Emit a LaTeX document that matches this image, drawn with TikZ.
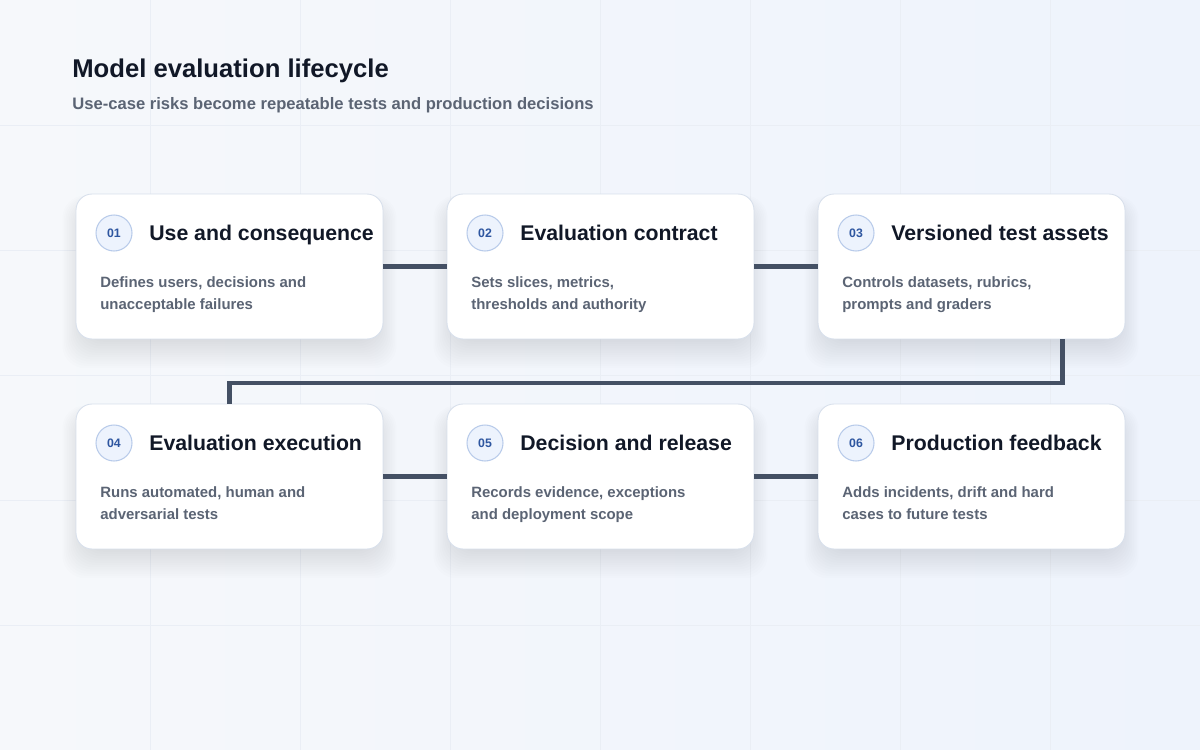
\documentclass[tikz,border=0pt]{standalone}
\usepackage{fontspec}
\setmainfont{Liberation Sans}
\usepackage{tikz}
\usetikzlibrary{positioning, calc}
\definecolor{ink}{HTML}{111827}
\definecolor{muted}{HTML}{5B6474}
\definecolor{linkcol}{HTML}{445064}
\definecolor{cardline}{HTML}{D8E0EC}
\definecolor{badgefill}{HTML}{EDF3FD}
\definecolor{badgeline}{HTML}{B8CBEA}
\definecolor{badgetext}{HTML}{2E56A0}
\definecolor{gridcol}{HTML}{EAEEF5}
\definecolor{bgtop}{HTML}{F6F8FB}
\definecolor{bgbot}{HTML}{EEF3FC}
\definecolor{shadowcol}{HTML}{2A3656}
\tikzstyle{card}=[draw=cardline, line width=0.5pt, fill=white, rounded corners=0.32cm, minimum width=6.14cm, minimum height=2.9cm, inner sep=0]
\tikzstyle{badge}=[circle, draw=badgeline, line width=0.6pt, fill=badgefill, minimum size=0.72cm, inner sep=0, text=badgetext, font=\fontsize{7}{8}\selectfont\bfseries]
\tikzstyle{head}=[inner sep=0, text=ink, font=\fontsize{12.1}{14}\selectfont\bfseries]
\tikzstyle{desc}=[inner sep=0, align=left, text=muted, font=\fontsize{8.5}{12.5}\selectfont\bfseries]
\tikzstyle{link}=[draw=linkcol, line width=2.3pt]

\begin{document}
\begin{tikzpicture}[x=0.02cm, y=-0.02cm]
      \useasboundingbox (0,0) rectangle (1200,750);
      \fill [left color=bgtop, right color=bgbot] (0,0) rectangle (1200,750);
      \foreach \g in {150,300,...,1050}
        \draw [gridcol, line width=0.5pt] (\g,0) -- (\g,750);
      \foreach \g in {125,250,...,625}
        \draw [gridcol, line width=0.5pt] (0,\g) -- (1200,\g);

      \node [anchor=base west, inner sep=0, text=ink, font=\fontsize{14.6}{17}\selectfont\bfseries] (title) at (72,78) {Model evaluation lifecycle};
      \node [anchor=base west, inner sep=0, text=muted, font=\fontsize{9.45}{11}\selectfont\bfseries] (subtitle) at (72,110) {Use-case risks become repeatable tests and production decisions};

      \foreach \n/\x/\y/\head/\desc [count=\i] in {
          01/76/194/{Use and consequence}/{Defines users, decisions and\\unacceptable failures},
          02/447/194/{Evaluation contract}/{Sets slices, metrics,\\thresholds and authority},
          03/818/194/{Versioned test assets}/{Controls datasets, rubrics,\\prompts and graders},
          04/76/404/{Evaluation execution}/{Runs automated, human and\\adversarial tests},
          05/447/404/{Decision and release}/{Records evidence, exceptions\\and deployment scope},
          06/818/404/{Production feedback}/{Adds incidents, drift and hard\\cases to future tests}}{
        \foreach \s in {0,...,16}
          \fill [shadowcol, opacity=0.009, rounded corners=0.45cm] (\x+12-1.6*\s,\y+16-0.9*\s) rectangle (\x+295+1.6*\s,\y+139+2.2*\s);
        \node [card] (card-\i) at (\x+153.5,\y+72.5) {};
        \node [badge] (badge-\i) at (\x+38,\y+39) {\n};
        \node [head, anchor=base west] (head-\i) at (\x+73,\y+46) {\head};
        \node [desc, anchor=base west] (desc-\i) at (\x+24,\y+115) {\desc};
      }

      \draw [link] (card-1.east) -- (card-2.west);
      \draw [link] (card-2.east) -- (card-3.west);
      \draw [link] ([xshift=1.82cm]card-3.south) -- ++(0,44) -| (card-4.north);
      \draw [link] (card-4.east) -- (card-5.west);
      \draw [link] (card-5.east) -- (card-6.west);
\end{tikzpicture}
\end{document}
